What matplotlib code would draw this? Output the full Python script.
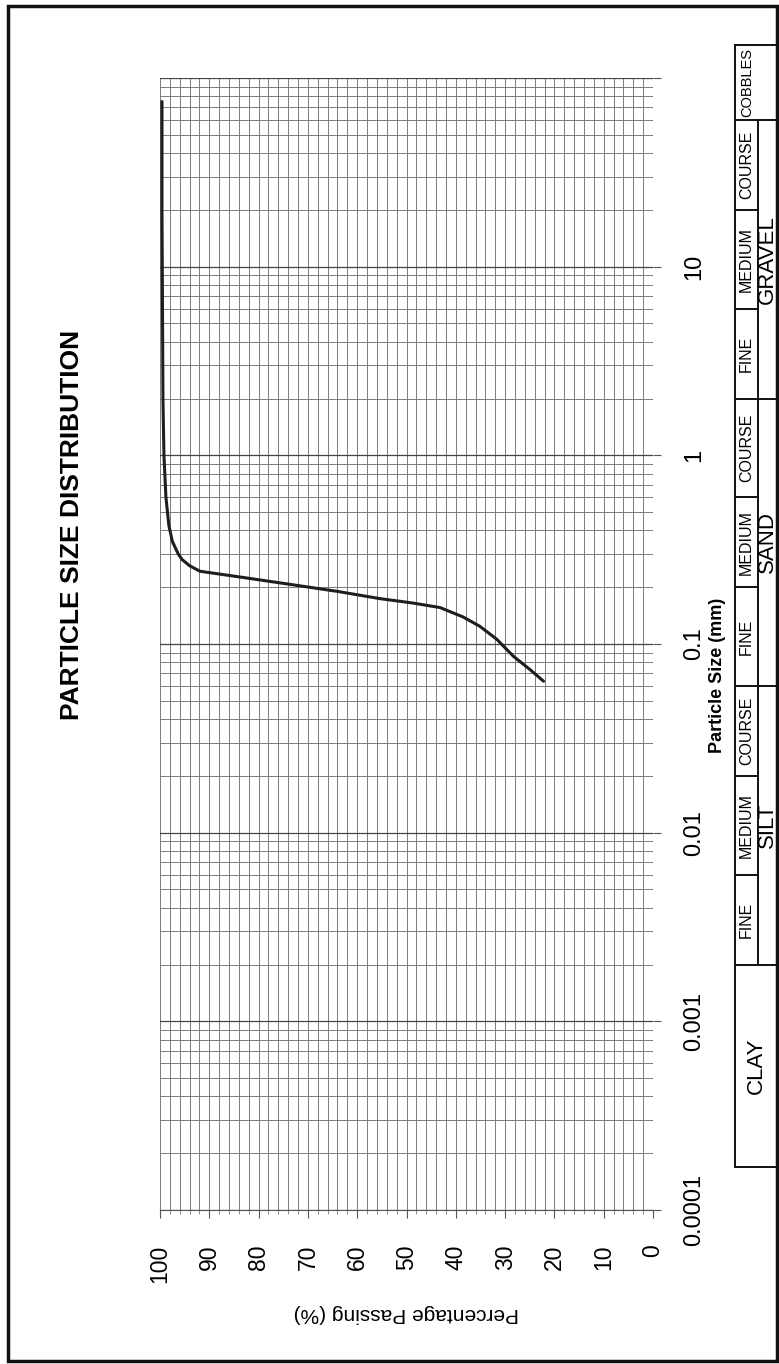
import matplotlib
matplotlib.use("Agg")
import matplotlib.pyplot as plt
from matplotlib.patches import Rectangle
from matplotlib.lines import Line2D
from matplotlib.ticker import FixedLocator, LogLocator, NullFormatter

plt.rcParams["font.family"] = ["Liberation Sans", "DejaVu Sans"]

# grading curve
size_mm = [75, 20, 6.3, 2, 1, 0.6, 0.425, 0.35, 0.3, 0.28, 0.26, 0.243,
           0.225, 0.207, 0.19, 0.174, 0.165, 0.156, 0.139, 0.124, 0.106,
           0.086, 0.073, 0.0635]
passing = [99.6, 99.6, 99.5, 99.4, 99.2, 98.8, 98.2, 97.5, 96.3, 95.5, 94.0, 91.9,
           83.0, 73.6, 64.0, 55.4, 48.8, 43.2, 38.5, 35.1, 31.7,
           28.3, 24.9, 22.2]

size_ticks = [0.0001, 0.001, 0.01, 0.1, 1, 10, 100]
size_labels = ["0.0001", "0.001", "0.01", "0.1", "1", "10", ""]
pct_ticks = [0, 10, 20, 30, 40, 50, 60, 70, 80, 90, 100]

# soil classification strip (sizes in mm)
main_names = ["CLAY", "SILT", "SAND", "GRAVEL", "COBBLES"]
main_edges = [0.00017, 0.002, 0.06, 2, 60, 150]
sub_names = ["FINE", "MEDIUM", "COURSE"]
silt_edges = [0.002, 0.006, 0.02, 0.06]
sand_edges = [0.06, 0.2, 0.6, 2]
gravel_edges = [2, 6, 20, 60]

W, H = 779, 1364
fig = plt.figure(figsize=(W / 100, H / 100), dpi=100)


def fx(px):
    return px / W


def fy(py):
    return 1 - py / H


# plot area in pixels (the chart is a landscape sheet turned on its side)
left, right, top, bottom = 160, 653, 78, 1210
ax = fig.add_axes([fx(left), fy(bottom), fx(right - left), fy(top) - fy(bottom)])
ax.set_yscale("log")
ax.set_ylim(1e-4, 1e2)
ax.set_xlim(100, 0)

ax.xaxis.set_major_locator(FixedLocator(pct_ticks))
ax.xaxis.set_minor_locator(FixedLocator(list(range(0, 101, 2))))
ax.set_xticklabels([str(v) for v in pct_ticks])
ax.yaxis.set_major_locator(FixedLocator(size_ticks))
ax.yaxis.set_minor_locator(LogLocator(base=10, subs=range(2, 10)))
ax.yaxis.set_minor_formatter(NullFormatter())
ax.set_yticklabels(size_labels)
ax.yaxis.tick_right()

ax.xaxis.grid(True, which="both", color="#7a7a7a", lw=0.7)
ax.yaxis.grid(True, which="minor", color="#7a7a7a", lw=0.7)
ax.yaxis.grid(True, which="major", color="#444444", lw=0.9)
ax.set_axisbelow(True)

for s in ["top", "left", "right"]:
    ax.spines[s].set_visible(False)
ax.spines["bottom"].set_color("#555555")
ax.spines["bottom"].set_linewidth(0.8)

ax.tick_params(axis="x", which="major", length=6, width=0.8, color="#555555",
               pad=19, labelsize=16.5, labelrotation=90)
ax.tick_params(axis="x", which="minor", length=3, width=0.6, color="#777777")
ax.tick_params(axis="y", which="major", length=6, width=0.8, color="#555555",
               pad=16, labelsize=17, labelrotation=90)
ax.tick_params(axis="y", which="minor", length=0)
for lab in ax.get_yticklabels():
    lab.set_verticalalignment("center")

ax.plot(passing, size_mm, color="#1e1e1e", lw=2.2, solid_capstyle="round",
        solid_joinstyle="round", clip_on=False)

# titles and axis names
fig.text(fx(72), fy(525), "PARTICLE SIZE DISTRIBUTION", rotation=90, fontsize=19,
         fontweight="bold", ha="center", va="center")
fig.text(fx(717), fy(675), "Particle Size (mm)", rotation=90, fontsize=13,
         fontweight="bold", ha="center", va="center")
fig.text(fx((left + right) / 2), fy(1314), "Percentage Passing (%)", rotation=180,
         fontsize=15, ha="center", va="center")

# classification strip, sharing the particle-size scale
tx0, tx1 = 735, 777
axt = fig.add_axes([fx(tx0), fy(bottom), fx(tx1 - tx0), fy(top) - fy(bottom)], sharey=ax)
axt.set_xlim(0, 1)
axt.axis("off")
split = 0.54
lk = dict(color="#111111", lw=1.4, clip_on=False)


def hline(x0, x1, y):
    axt.add_line(Line2D([x0, x1], [y, y], **lk))


def vline(x, y0, y1):
    axt.add_line(Line2D([x, x], [y0, y1], **lk))


vline(0, main_edges[0], main_edges[-1])
vline(1, main_edges[0], main_edges[-1])
vline(split, main_edges[1], main_edges[4])
for e in main_edges:
    hline(0, 1, e)

narrow = ["Liberation Sans Narrow", "Liberation Sans", "DejaVu Sans"]
for name, lo, hi in zip(main_names, main_edges[:-1], main_edges[1:]):
    mid = (lo * hi) ** 0.5
    if name == "CLAY":
        axt.text(0.5, mid, name, rotation=90, fontsize=16, ha="center", va="center")
    elif name == "COBBLES":
        axt.text(0.3, mid, name, rotation=90, fontsize=10.5, ha="center", va="center",
                 family=narrow)
    else:
        axt.text(0.78, mid, name, rotation=90, fontsize=16, ha="center", va="center")

for edges in [silt_edges, sand_edges, gravel_edges]:
    for e in edges[1:-1]:
        hline(0, split, e)
    for name, lo, hi in zip(sub_names, edges[:-1], edges[1:]):
        axt.text(split / 2, (lo * hi) ** 0.5, name, rotation=90, fontsize=11.5,
                 ha="center", va="center", family=narrow)

# outer frame
fig.add_artist(Rectangle((fx(8), fy(1361)), fx(777 - 8), fy(6) - fy(1361),
                         transform=fig.transFigure, fill=False, lw=2.5, ec="#111111"))

fig.savefig("out.png", dpi=100)
